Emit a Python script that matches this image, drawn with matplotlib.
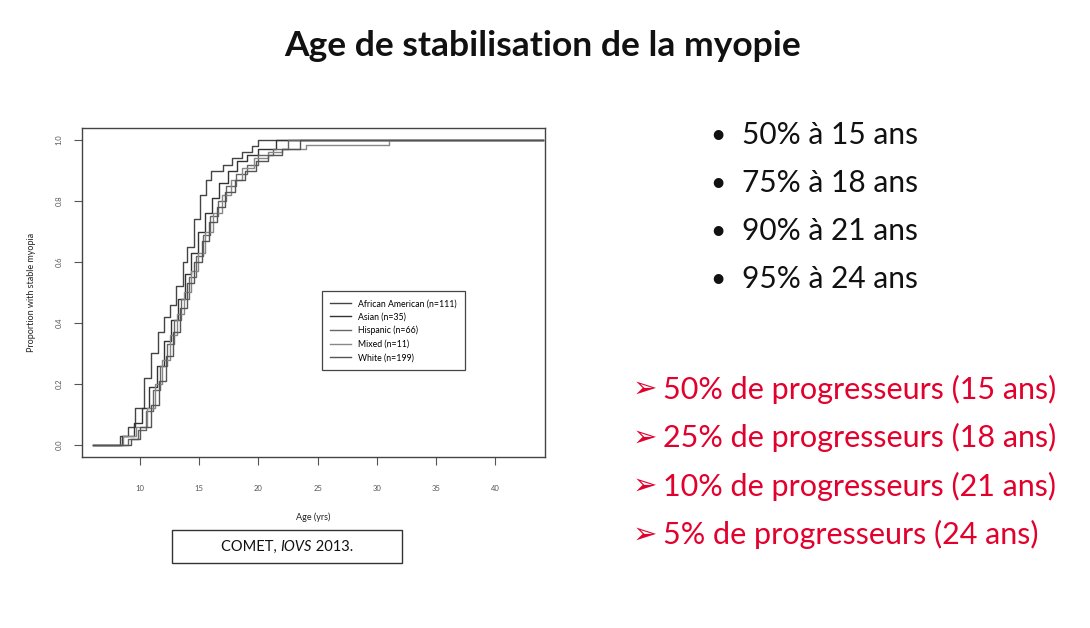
import numpy as np
import matplotlib
matplotlib.use("Agg")
import matplotlib.pyplot as plt
from matplotlib.patches import Rectangle
from matplotlib.offsetbox import TextArea, HPacker, AnnotationBbox

plt.rcParams['font.family'] = ['Lato', 'DejaVu Sans']

# cumulative proportion with stable myopia, by group
ages_a = [6, 8.3, 9.0, 9.6, 10.3, 10.9, 11.5, 12.0, 12.5, 13.0, 13.6, 14.0, 14.6, 15.1, 15.6, 16.0, 17.0, 17.8, 18.6, 19.5, 20.0, 44]
prop_a = [0, 0.03, 0.06, 0.12, 0.22, 0.30, 0.37, 0.42, 0.46, 0.52, 0.60, 0.65, 0.74, 0.82, 0.87, 0.90, 0.92, 0.94, 0.96, 0.98, 1.0, 1.0]

ages_b = [6, 8.5, 9.5, 10.2, 10.8, 11.4, 12.0, 12.6, 13.2, 13.8, 14.3, 14.9, 15.5, 16.1, 16.7, 17.4, 18.2, 19.0, 20.0, 21.5, 44]
prop_b = [0, 0.03, 0.07, 0.12, 0.19, 0.26, 0.34, 0.41, 0.48, 0.56, 0.63, 0.70, 0.76, 0.81, 0.86, 0.90, 0.93, 0.95, 0.97, 1.0, 1.0]

ages_c = [6, 9.0, 9.8, 10.5, 11.1, 11.7, 12.3, 12.9, 13.5, 14.1, 14.7, 15.3, 15.9, 16.6, 17.3, 18.1, 19.0, 20.0, 21.2, 22.5, 44]
prop_c = [0, 0.02, 0.05, 0.11, 0.18, 0.26, 0.33, 0.41, 0.48, 0.55, 0.62, 0.69, 0.75, 0.80, 0.85, 0.89, 0.92, 0.95, 0.97, 1.0, 1.0]

ages_d = [6, 8.6, 9.7, 10.6, 11.3, 11.9, 12.5, 13.1, 13.7, 14.3, 14.9, 15.5, 16.2, 16.9, 17.7, 18.6, 19.6, 20.8, 22.0, 24.0, 31.0, 44]
prop_d = [0, 0.03, 0.06, 0.12, 0.20, 0.28, 0.36, 0.43, 0.50, 0.57, 0.63, 0.70, 0.76, 0.82, 0.87, 0.91, 0.94, 0.96, 0.97, 0.985, 1.0, 1.0]

ages_e = [6, 9.2, 10.0, 10.9, 11.6, 12.2, 12.8, 13.4, 14.0, 14.6, 15.2, 15.8, 16.5, 17.2, 18.0, 18.9, 19.8, 20.8, 22.0, 23.5, 44]
prop_e = [0, 0.02, 0.06, 0.13, 0.21, 0.29, 0.37, 0.45, 0.53, 0.60, 0.67, 0.73, 0.78, 0.83, 0.87, 0.90, 0.93, 0.95, 0.97, 1.0, 1.0]

group_labels = ["African American (n=111)", "Asian (n=35)", "Hispanic (n=66)", "Mixed (n=11)", "White (n=199)"]
xticks = [10, 15, 20, 25, 30, 35, 40]
yticks = [0.0, 0.2, 0.4, 0.6, 0.8, 1.0]

bullets = ["50% à 15 ans", "75% à 18 ans", "90% à 21 ans", "95% à 24 ans"]
progress = ["50% de progresseurs (15 ans)", "25% de progresseurs (18 ans)",
            "10% de progresseurs (21 ans)", "5% de progresseurs (24 ans)"]

red = '#e2002d'

fig = plt.figure(figsize=(10.9, 6.28), dpi=100)
fig.patch.set_facecolor('white')

fig.text(0.498, 0.926, "Age de stabilisation de la myopie", ha='center', va='center',
         fontsize=25.5, fontweight='bold', color='#111111')

ax = fig.add_axes([0.0752, 0.2723, 0.4248, 0.5239])
series = [(ages_a, prop_a), (ages_b, prop_b), (ages_c, prop_c), (ages_d, prop_d), (ages_e, prop_e)]
shades = ['#444444', '#333333', '#666666', '#888888', '#555555']
for (xs, ys), col, lab in zip(series, shades, group_labels):
    ax.plot(xs, ys, drawstyle='steps-post', color=col, lw=1.0, label=lab)

ax.set_xlim(5.1, 44.2)
ax.set_ylim(-0.04, 1.04)
ax.set_xticks(xticks)
ax.set_xticklabels([str(t) for t in xticks])
ax.set_yticks(yticks)
ax.set_yticklabels([f"{t:.1f}" for t in yticks], rotation=90, va='center')
ax.tick_params(axis='both', labelsize=5.5, colors='#555555', length=6, width=0.8)
ax.tick_params(axis='x', pad=14)
ax.tick_params(axis='y', pad=8)
for s in ax.spines.values():
    s.set_color('#444444')
    s.set_linewidth(1.0)
ax.set_xlabel("Age (yrs)", fontsize=6.5, labelpad=15, color='#222222')
ax.set_ylabel("Proportion with stable myopia", fontsize=6.5, labelpad=14, color='#222222')

leg = ax.legend(loc='upper left', bbox_to_anchor=(0.51, 0.517), fontsize=6.3,
                fancybox=False, edgecolor='#444444', framealpha=1,
                handlelength=2.4, borderpad=0.9, labelspacing=0.5)
leg.get_frame().set_linewidth(0.9)

# reference box under the chart
fig.patches.append(Rectangle((172 / 1090, 1 - 563 / 628), 230 / 1090, 33 / 628,
                             transform=fig.transFigure, fill=False,
                             edgecolor='#333333', lw=1.0))
parts = HPacker(children=[TextArea("COMET, ", textprops=dict(fontsize=10.5, color='#111111')),
                          TextArea("IOVS", textprops=dict(fontsize=10.5, style='italic', color='#111111')),
                          TextArea(" 2013.", textprops=dict(fontsize=10.5, color='#111111'))],
                pad=0, sep=0)
fig.add_artist(AnnotationBbox(parts, (287 / 1090, 1 - 547 / 628), xycoords='figure fraction',
                              frameon=False, box_alignment=(0.5, 0.5)))

for i, t in enumerate(bullets):
    y = 1 - (135 + 48 * i) / 628
    fig.text(710 / 1090, y, "•", ha='left', va='center', fontsize=19, color='#111111')
    fig.text(742 / 1090, y, t, ha='left', va='center', fontsize=21.5, color='#111111')

for i, t in enumerate(progress):
    y = 1 - (389 + 48.5 * i) / 628
    fig.text(633 / 1090, y, "➢", ha='left', va='center', fontsize=21, color=red,
             family=['DejaVu Sans'])
    fig.text(663 / 1090, y, t, ha='left', va='center', fontsize=22, color=red)

fig.savefig("out.png", dpi=100)
